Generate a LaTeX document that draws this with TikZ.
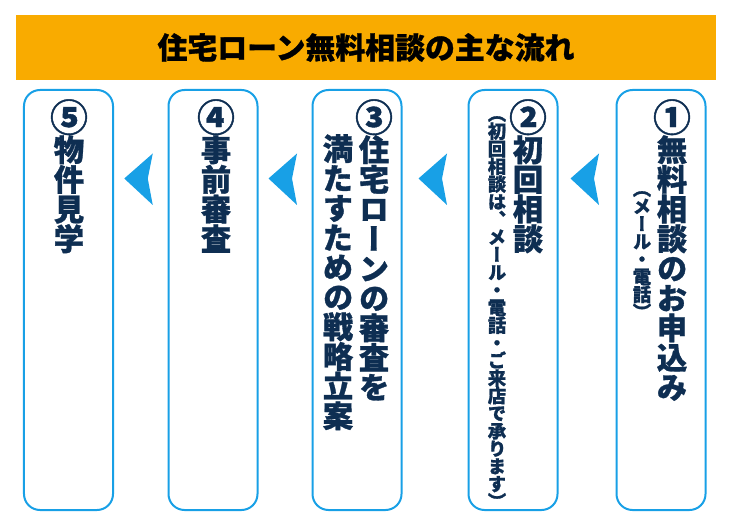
\documentclass[tikz,border=0pt]{standalone}
\usepackage{fontspec}
\newfontfamily\jpfont{Noto Sans CJK JP}[BoldFeatures={FakeBold=1}]
\newfontfamily\jpvfont{Noto Sans CJK JP}[RawFeature=+vert,BoldFeatures={FakeBold=1}]
\usetikzlibrary{positioning,calc}
\definecolor{bannerorange}{HTML}{F9AB00}
\definecolor{stepblue}{HTML}{18A0E6}
\definecolor{textnavy}{HTML}{0E2E52}
\newcommand{\stepno}[1]{{\fontsize{38}{29.8}\selectfont #1}}

\begin{document}
\begin{tikzpicture}[x=1bp,y=-1bp]
  \useasboundingbox (0,0) rectangle (730,530);
  \begin{scope}[
    stepbox/.style={
      rectangle,
      draw=stepblue,
      line width=2bp,
      rounded corners=16bp,
      minimum width=89bp,
      minimum height=420bp,
    },
    maintext/.style={
      inner sep=0pt,
      anchor=north,
      align=center,
      text=textnavy,
      font=\jpvfont\bfseries\fontsize{30.5}{29.8}\selectfont,
    },
    subtext/.style={
      inner sep=0pt,
      anchor=north,
      align=center,
      text=textnavy,
      font=\jpvfont\bfseries\fontsize{18.5}{17.7}\selectfont,
    },
    ]
    % title
    \node [fill=bannerorange,minimum width=700bp,minimum height=65bp,
      font=\jpfont\bfseries\fontsize{30}{30}\selectfont] (banner) at (366,47.5)
    {住宅ローン無料相談の主な流れ};

    % S1
    \node [stepbox] (S1) at (661,300) {};
    \node [maintext,below=10bp of S1.north,xshift=11bp] (S1main)
    {\stepno{①}\\無\\料\\相\\談\\の\\お\\申\\込\\み};
    \node [subtext,below=102bp of S1.north,xshift=-19bp] (S1sub)
    {（\\メ\\ー\\ル\\・\\電\\話\\）};

    % S2
    \node [stepbox] (S2) at (513,300) {};
    \node [maintext,below=10bp of S2.north,xshift=15bp] (S2main)
    {\stepno{②}\\初\\回\\相\\談};
    \node [subtext,below=27bp of S2.north,xshift=-16bp] (S2sub)
    {（\\初\\回\\相\\談\\は\\、\\メ\\ー\\ル\\・\\電\\話\\・\\ご\\来\\店\\で\\承\\り\\ま\\す\\）};

    % S3
    \node [stepbox] (S3) at (357,300) {};
    \node [maintext,below=10bp of S3.north,xshift=17bp] (S3main)
    {\stepno{③}\\住\\宅\\ロ\\ー\\ン\\の\\審\\査\\を};
    \node [maintext,below=45bp of S3.north,xshift=-19bp] (S3second)
    {満\\た\\す\\た\\め\\の\\戦\\略\\立\\案};

    % S4
    \node [stepbox] (S4) at (213,300) {};
    \node [maintext,below=10bp of S4.north,xshift=3bp] (S4main)
    {\stepno{④}\\事\\前\\審\\査};

    % S5
    \node [stepbox] (S5) at (68.5,300) {};
    \node [maintext,below=10bp of S5.north,xshift=0.5bp] (S5main)
    {\stepno{⑤}\\物\\件\\見\\学};
  \end{scope}
  \begin{scope}[
    nextarrow/.style={
      fill=stepblue,
    },
    ]
    \coordinate (A12) at ($($(S2.east)!0.5!(S1.west)$)+(-2,-121.5)$);
    \coordinate (A23) at ($($(S3.east)!0.5!(S2.west)$)+(-2,-121.5)$);
    \coordinate (A34) at ($($(S4.east)!0.5!(S3.west)$)+(-2,-121.5)$);
    \coordinate (A45) at ($($(S5.east)!0.5!(S4.west)$)+(-2,-121.5)$);

    % arrows between steps
    \fill [nextarrow] (A12) ++(-14.5,0) -- ++(28.5,-25) -- ++(-5,25) -- ++(5,26.5) -- cycle;
    \fill [nextarrow] (A23) ++(-14.5,0) -- ++(28.5,-25) -- ++(-5,25) -- ++(5,26.5) -- cycle;
    \fill [nextarrow] (A34) ++(-14.5,0) -- ++(28.5,-25) -- ++(-5,25) -- ++(5,26.5) -- cycle;
    \fill [nextarrow] (A45) ++(-14.5,0) -- ++(28.5,-25) -- ++(-5,25) -- ++(5,26.5) -- cycle;
  \end{scope}
\end{tikzpicture}
\end{document}
